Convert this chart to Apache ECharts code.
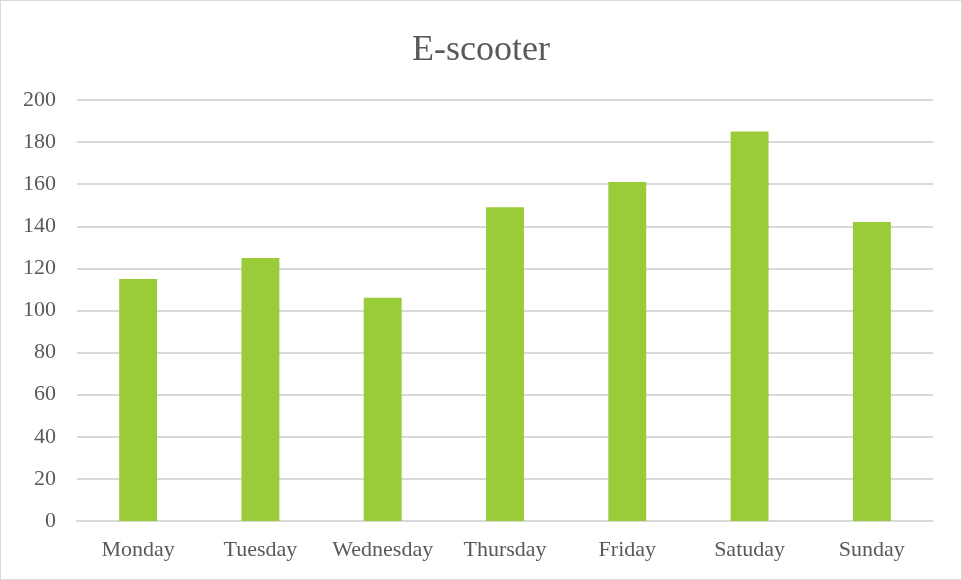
<!DOCTYPE html>
<html>
<head>
<meta charset="utf-8">
<script src="https://cdn.jsdelivr.net/npm/echarts@6/dist/echarts.min.js"></script>
<style>
  html, body { margin: 0; padding: 0; background: #fff; }
  #chart { width: 960px; height: 578px; border: 1px solid #d9d9d9; }
</style>
</head>
<body>
<div id="chart"></div>
<script>
var days = ['Monday', 'Tuesday', 'Wednesday', 'Thursday', 'Friday', 'Satuday', 'Sunday']
var trips = [115, 125, 106, 149, 161, 185, 142]

var myChart = echarts.init(document.getElementById('chart'))
var textFont = '"Liberation Serif", "Times New Roman", serif'

var option = {
  animation: false,
  title: {
    text: 'E-scooter',
    left: 'center',
    top: 27,
    textStyle: { fontFamily: textFont, fontSize: 36, fontWeight: 'normal', color: '#595959' }
  },
  grid: { left: 76, right: 28, top: 99, bottom: 58 },
  xAxis: {
    type: 'category',
    data: days,
    axisLine: { lineStyle: { color: '#d9d9d9', width: 2 } },
    axisTick: { show: false },
    axisLabel: { interval: 0, fontFamily: textFont, fontSize: 22, color: '#595959', margin: 18 }
  },
  yAxis: {
    type: 'value',
    min: 0,
    max: 200,
    interval: 20,
    axisLine: { show: false },
    axisTick: { show: false },
    splitLine: { lineStyle: { color: '#d9d9d9', width: 2 } },
    axisLabel: { fontFamily: textFont, fontSize: 22, color: '#595959', margin: 21 }
  },
  series: [
    {
      type: 'bar',
      data: trips,
      barWidth: '31%',
      itemStyle: { color: '#9acb38' }
    }
  ]
}

option && myChart.setOption(option)
</script>
</body>
</html>
